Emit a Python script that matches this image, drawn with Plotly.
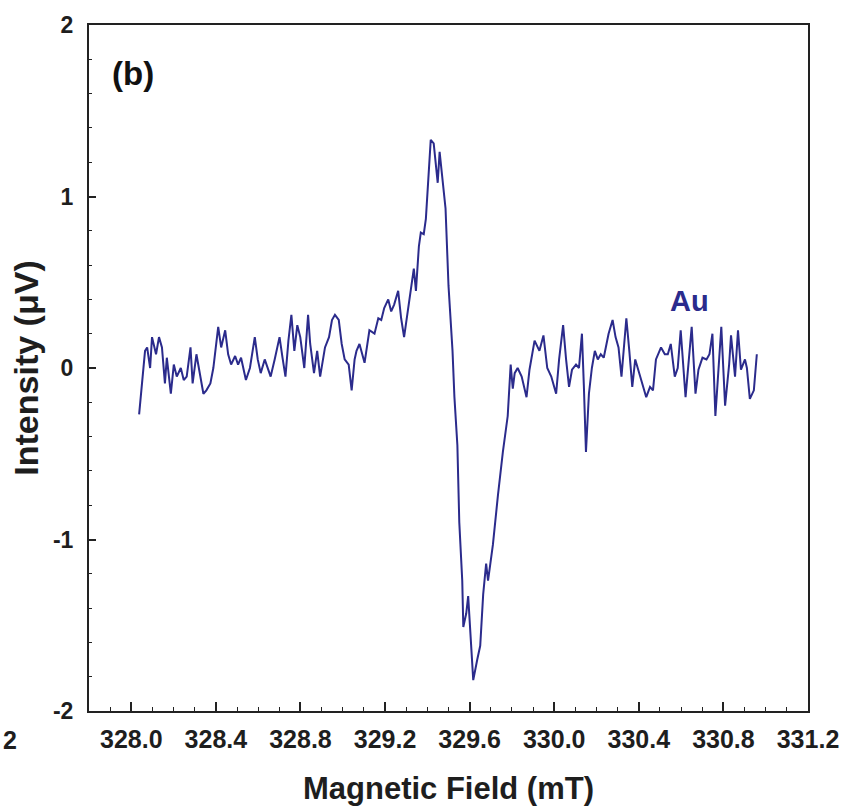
import plotly.graph_objects as go

# EPR derivative spectrum of the Au sample, panel (b)
field_mT = [
    328.037, 328.065, 328.075, 328.089, 328.098, 328.117, 328.131, 328.145, 328.159, 328.168,
    328.187, 328.201, 328.215, 328.234, 328.248, 328.262, 328.280, 328.290, 328.308, 328.327,
    328.341, 328.355, 328.374, 328.388, 328.411, 328.425, 328.444, 328.458, 328.472, 328.491,
    328.505, 328.519, 328.542, 328.561, 328.575, 328.584, 328.598, 328.612, 328.631, 328.645,
    328.659, 328.678, 328.701, 328.715, 328.729, 328.743, 328.757, 328.771, 328.785, 328.799,
    328.818, 328.836, 328.846, 328.864, 328.879, 328.893, 328.916, 328.935, 328.949, 328.963,
    328.981, 328.995, 329.009, 329.028, 329.042, 329.056, 329.065, 329.079, 329.103, 329.126,
    329.150, 329.168, 329.182, 329.196, 329.215, 329.229, 329.243, 329.262, 329.276, 329.290,
    329.308, 329.322, 329.336, 329.346, 329.360, 329.369, 329.383, 329.393, 329.407, 329.416,
    329.430, 329.449, 329.458, 329.472, 329.486, 329.500, 329.519, 329.528, 329.542, 329.551,
    329.565, 329.570, 329.584, 329.593, 329.607, 329.617, 329.636, 329.650, 329.664, 329.678,
    329.687, 329.710, 329.734, 329.757, 329.780, 329.794, 329.804, 329.813, 329.827, 329.846,
    329.869, 329.883, 329.907, 329.930, 329.949, 329.967, 329.986, 330.009, 330.023, 330.042,
    330.056, 330.070, 330.084, 330.103, 330.117, 330.131, 330.140, 330.150, 330.164, 330.178,
    330.192, 330.206, 330.220, 330.234, 330.257, 330.276, 330.290, 330.304, 330.318, 330.341,
    330.355, 330.369, 330.383, 330.402, 330.421, 330.435, 330.453, 330.467, 330.481, 330.505,
    330.523, 330.537, 330.551, 330.570, 330.584, 330.598, 330.621, 330.640, 330.650, 330.668,
    330.682, 330.701, 330.720, 330.734, 330.748, 330.762, 330.780, 330.790, 330.808, 330.827,
    330.836, 330.855, 330.869, 330.883, 330.902, 330.911, 330.925, 330.944, 330.958,
]

intensity_uV = [
    -0.27, 0.10, 0.12, 0.00, 0.18, 0.08, 0.18, 0.12, -0.09, 0.06,
    -0.15, 0.02, -0.05, 0.00, -0.07, -0.05, 0.12, -0.09, 0.08, -0.05,
    -0.15, -0.13, -0.09, 0.00, 0.24, 0.12, 0.22, 0.08, 0.02, 0.07,
    0.02, 0.06, -0.07, 0.00, 0.12, 0.18, 0.05, -0.03, 0.05, 0.00,
    -0.05, 0.05, 0.18, 0.06, -0.05, 0.16, 0.31, 0.10, 0.25, 0.18,
    0.00, 0.31, 0.14, -0.03, 0.10, -0.05, 0.12, 0.18, 0.28, 0.31,
    0.28, 0.14, 0.05, 0.02, -0.13, 0.05, 0.10, 0.14, 0.03, 0.22,
    0.20, 0.29, 0.28, 0.35, 0.40, 0.33, 0.37, 0.45, 0.29, 0.18,
    0.33, 0.47, 0.58, 0.45, 0.71, 0.79, 0.78, 0.87, 1.16, 1.33,
    1.31, 1.08, 1.26, 1.08, 0.93, 0.48, 0.10, -0.17, -0.45, -0.90,
    -1.24, -1.51, -1.43, -1.33, -1.59, -1.82, -1.70, -1.62, -1.32, -1.14,
    -1.24, -1.03, -0.74, -0.49, -0.28, 0.02, -0.12, -0.03, 0.00, -0.05,
    -0.17, -0.01, 0.16, 0.10, 0.19, 0.00, -0.05, -0.15, 0.05, 0.25,
    0.05, -0.11, -0.01, 0.02, 0.00, 0.20, -0.10, -0.49, -0.15, 0.00,
    0.10, 0.05, 0.08, 0.06, 0.20, 0.28, 0.18, 0.12, -0.05, 0.29,
    0.10, -0.11, 0.05, -0.03, -0.11, -0.17, -0.11, -0.13, 0.05, 0.12,
    0.08, 0.08, 0.14, -0.05, 0.00, 0.22, -0.17, 0.12, 0.24, -0.15,
    -0.01, 0.06, 0.05, 0.08, 0.20, -0.28, 0.05, 0.24, -0.22, 0.02,
    0.19, -0.05, 0.22, -0.01, 0.05, 0.00, -0.18, -0.13, 0.08,
]

x_tick_values = [328.0, 328.4, 328.8, 329.2, 329.6, 330.0, 330.4, 330.8, 331.2]
x_tick_labels = ["328.0", "328.4", "328.8", "329.2", "329.6", "330.0", "330.4", "330.8", "331.2"]
y_tick_values = [-2, -1, 0, 1, 2]
y_tick_labels = ["-2", "-1", "0", "1", "2"]

LINE_COLOR = "#2b2b8c"
AXIS_COLOR = "#222222"
TEXT_COLOR = "#1e1e1e"
FONT = "Liberation Sans, Arial, sans-serif"

fig = go.Figure()
fig.add_trace(go.Scatter(
    x=field_mT, y=intensity_uV, mode="lines",
    line=dict(color=LINE_COLOR, width=2),
    showlegend=False, hoverinfo="skip",
))

fig.update_layout(
    width=851, height=812,
    margin=dict(l=89, r=34, t=22, b=93),
    paper_bgcolor="white", plot_bgcolor="white",
    xaxis=dict(
        range=[327.8, 331.2], tickmode="array",
        tickvals=x_tick_values, ticktext=x_tick_labels,
        ticks="inside", ticklen=9, tickwidth=1.5, tickcolor=AXIS_COLOR,
        minor=dict(tick0=327.9, dtick=0.1, ticks="inside", ticklen=4,
                   tickwidth=1.2, tickcolor=AXIS_COLOR),
        showline=True, linecolor=AXIS_COLOR, linewidth=2, mirror=True,
        showgrid=False, zeroline=False,
        tickfont=dict(family=FONT, size=25, color=TEXT_COLOR, weight="bold"),
        ticklabeloverflow="allow",
        ticklabelstandoff=5,
        title=dict(text="Magnetic Field (mT)", standoff=25,
                   font=dict(family=FONT, size=31, color=TEXT_COLOR, weight="bold")),
    ),
    yaxis=dict(
        range=[-2, 2], tickmode="array",
        tickvals=y_tick_values, ticktext=y_tick_labels,
        ticks="inside", ticklen=7, tickwidth=1.5, tickcolor=AXIS_COLOR,
        minor=dict(tick0=0, dtick=0.2, ticks="inside", ticklen=3,
                   tickwidth=1.2, tickcolor=AXIS_COLOR),
        showline=True, linecolor=AXIS_COLOR, linewidth=2, mirror=True,
        showgrid=False, zeroline=False,
        tickfont=dict(family=FONT, size=23, color=TEXT_COLOR, weight="bold"),
        ticklabelstandoff=9,
        title=dict(text="Intensity (μV)", standoff=4,
                   font=dict(family=FONT, size=34, color=TEXT_COLOR, weight="bold")),
    ),
    annotations=[
        dict(x=328.01, y=1.72, xref="x", yref="y", text="(b)", showarrow=False,
             font=dict(family=FONT, size=33, color="#111", weight="bold")),
        dict(x=330.64, y=0.39, xref="x", yref="y", text="Au", showarrow=False,
             font=dict(family=FONT, size=29, color=LINE_COLOR, weight="bold")),
        dict(x=-0.1223, y=-0.042, xref="paper", yref="paper", text="2",
             xanchor="left", yanchor="middle", showarrow=False,
             font=dict(family=FONT, size=25, color=TEXT_COLOR, weight="bold")),
    ],
)

fig.write_html("out.html")
